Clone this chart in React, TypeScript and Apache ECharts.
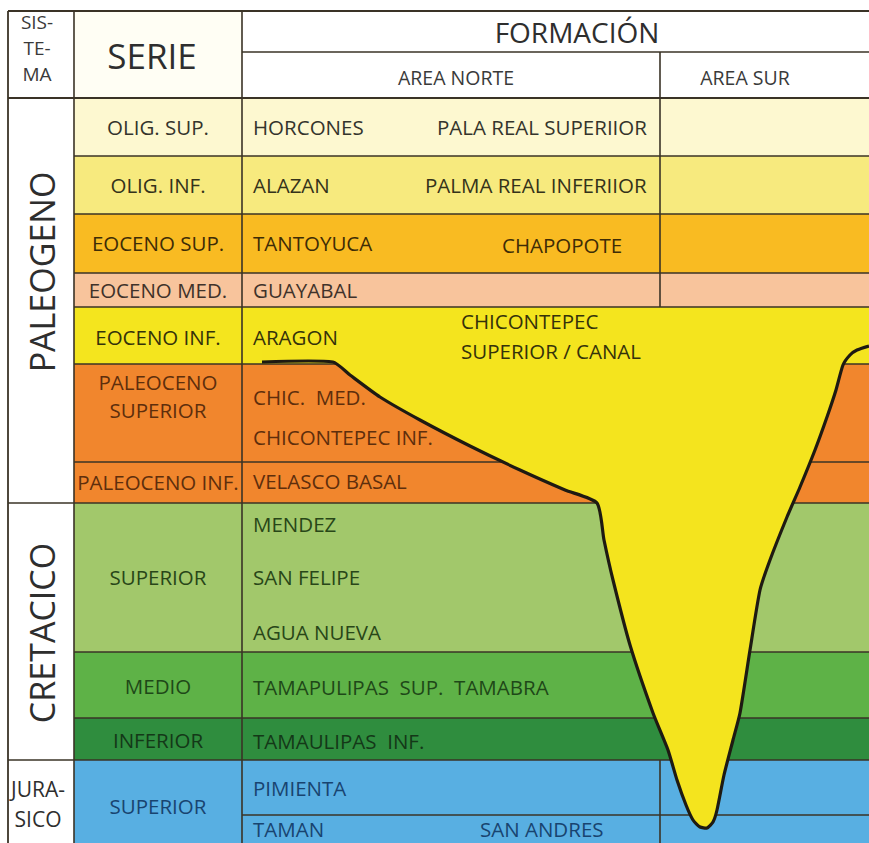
import React, { useEffect, useRef } from "react";
import * as echarts from "echarts";

// ---- frame of the table (data units = depth / horizontal position) ----
const X_MIN = 8;
const X_MAX = 869;
const Y_MIN = 11;
const Y_MAX = 843;

const colSistema = 8;
const colSerie = 74;
const colFormacion = 242;
const colAreaSur = 660;
const headerMid = 52;
const headerBottom = 98;

// ---- SISTEMA ----
const sistemaNames = ["PALEOGENO", "CRETACICO", "JURA-\nSICO"];
const sistemaBounds = [98, 503, 760, 843];

// ---- SERIE ----
const serieNames = [
  "OLIG. SUP.",
  "OLIG. INF.",
  "EOCENO SUP.",
  "EOCENO MED.",
  "EOCENO INF.",
  "PALEOCENO\nSUPERIOR",
  "PALEOCENO INF.",
  "SUPERIOR",
  "MEDIO",
  "INFERIOR",
  "SUPERIOR",
];
const serieBounds = [98, 156, 214, 273, 307, 364, 462, 503, 652, 718, 760, 843];
const serieLabelDepth = [127, 185, 243, 290, 337, 396, 482, 577, 686, 740, 806];

// ---- FORMACIÓN labels ----
const formNames = [
  "HORCONES", "PALA REAL SUPERIIOR",
  "ALAZAN", "PALMA REAL INFERIIOR",
  "TANTOYUCA", "CHAPOPOTE",
  "GUAYABAL",
  "ARAGON", "CHICONTEPEC", "SUPERIOR / CANAL",
  "CHIC.  MED.", "CHICONTEPEC INF.",
  "VELASCO BASAL",
  "MENDEZ", "SAN FELIPE", "AGUA NUEVA",
  "TAMAPULIPAS  SUP.  TAMABRA",
  "TAMAULIPAS  INF.",
  "PIMIENTA",
  "TAMAN", "SAN ANDRES",
];
const formX = [253, 437, 253, 425, 253, 502, 253, 253, 461, 461, 253, 253, 253, 253, 253, 253, 253, 253, 253, 253, 480];
const formDepth = [127, 127, 185, 185, 243, 245, 290, 337, 321, 351, 397, 437, 481, 524, 577, 632, 687, 741, 788, 829, 829];

// extra line inside the Jurassic (PIMIENTA / TAMAN)
const jurassicSplit = 815;
// AREA NORTE / AREA SUR divider visible parts
const dividerSegments = [[52, 307], [760, 843]];

// ---- Chicontepec channel outline ----
const channelX = [262, 333, 350, 380, 420, 470, 520, 565, 597, 604, 613, 630, 653, 668, 677, 686, 693, 700, 707, 713, 717, 724, 733, 740, 750, 760, 770, 787, 800, 815, 827, 836, 843, 850, 857, 869];
const channelY = [362, 362, 375, 397, 420, 446, 470, 490, 503, 540, 580, 645, 713, 750, 780, 805, 820, 827, 828, 822, 810, 775, 740, 713, 650, 590, 560, 517, 487, 450, 417, 390, 365, 355, 350, 346];

// ---- styles ----
const serieColors = [
  "#fdf8d0", "#f7ea7e", "#f9bb22", "#f8c49c", "#f4e51e",
  "#f1862d", "#f1862d", "#a2c86b", "#5eb247", "#2f8d3e", "#58afe2",
];
const serieTextColors = [
  "#34342c", "#34321a", "#3e2c06", "#40322a", "#34320a",
  "#5e2e0c", "#5e2e0c", "#284618", "#1e4818", "#143818", "#184470",
];
const formTextColorsByDepth = (d: number) => {
  for (let i = 0; i < serieNames.length; i++) {
    if (d >= serieBounds[i] && d < serieBounds[i + 1]) return serieTextColors[i];
  }
  return "#333";
};
const channelYellow = "#f4e41e";
const lineColor = "#3a3326";
const FONT = "'Open Sans', 'Noto Sans', sans-serif";

export default function App() {
  const ref = useRef<HTMLDivElement>(null);

  useEffect(() => {
    if (!ref.current) return;
    const chart = echarts.init(ref.current, null, { renderer: "svg" });

    // segments for table lines: [x1, y1, x2, y2, width]
    const segments: number[][] = [];
    segments.push([X_MIN, Y_MIN, X_MAX + 2, Y_MIN, 1.8]);
    segments.push([colSistema, Y_MIN, colSistema, Y_MAX, 1.8]);
    segments.push([colSerie, Y_MIN, colSerie, Y_MAX, 1.6]);
    segments.push([colFormacion, Y_MIN, colFormacion, Y_MAX, 1.6]);
    segments.push([colFormacion, headerMid, X_MAX + 2, headerMid, 1.6]);
    segments.push([X_MIN, headerBottom, X_MAX + 2, headerBottom, 1.8]);
    sistemaBounds.slice(1, -1).forEach((b) => segments.push([colSistema, b, colSerie, b, 1.6]));
    serieBounds.slice(1, -1).forEach((b) => segments.push([colSerie, b, X_MAX + 2, b, 1.6]));
    segments.push([colFormacion, jurassicSplit, X_MAX + 2, jurassicSplit, 1.6]);
    dividerSegments.forEach((s) => segments.push([colAreaSur, s[0], colAreaSur, s[1], 1.6]));

    type Lbl = { t: string; x: number; y: number; size: number; color: string; align: string; rot?: number; lh?: number };
    const labels: Lbl[] = [];
    labels.push({ t: "SIS-\nTE-\nMA", x: 37, y: 48, size: 19, color: "#3a3a3a", align: "center", lh: 26 });
    labels.push({ t: "SERIE", x: 152, y: 55, size: 35, color: "#2e2e2e", align: "center" });
    labels.push({ t: "FORMACIÓN", x: 577, y: 32, size: 28, color: "#2e2e2e", align: "center" });
    labels.push({ t: "AREA NORTE", x: 456, y: 77, size: 19.5, color: "#3a3a3a", align: "center" });
    labels.push({ t: "AREA SUR", x: 745, y: 77, size: 19.5, color: "#3a3a3a", align: "center" });
    sistemaNames.forEach((n, i) => {
      const mid = (sistemaBounds[i] + sistemaBounds[i + 1]) / 2;
      if (i < 2) {
        labels.push({ t: n, x: 42, y: i === 0 ? 272 : 633, size: 34, color: "#2e2e2e", align: "center", rot: Math.PI / 2 });
      } else {
        labels.push({ t: n, x: 38, y: mid + 2, size: 21, color: "#2e2e2e", align: "center", lh: 30 });
      }
    });
    serieNames.forEach((n, i) => {
      labels.push({ t: n, x: 158, y: serieLabelDepth[i], size: 20.5, color: serieTextColors[i], align: "center", lh: 28 });
    });
    formNames.forEach((n, i) => {
      labels.push({ t: n, x: formX[i], y: formDepth[i], size: 20.5, color: formTextColorsByDepth(formDepth[i]), align: "left" });
    });

    const option: any = {
      animation: false,
      backgroundColor: "#ffffff",
      grid: { left: X_MIN, right: 0, top: Y_MIN, bottom: 0 },
      xAxis: { type: "value", min: X_MIN, max: X_MAX, show: false },
      yAxis: { type: "value", min: Y_MIN, max: Y_MAX, inverse: true, show: false },
      series: [
        {
          type: "custom",
          name: "header",
          data: [0],
          clip: false,
          z: 1,
          renderItem: (params: any, api: any) => {
            const a = api.coord([colSerie, Y_MIN]);
            const b = api.coord([colFormacion, headerBottom]);
            return {
              type: "rect",
              shape: { x: a[0], y: a[1], width: b[0] - a[0], height: b[1] - a[1] },
              style: { fill: "#fffef4" },
            };
          },
        },
        {
          type: "custom",
          name: "serie",
          data: serieNames.map((_, i) => [i, serieBounds[i], serieBounds[i + 1]]),
          clip: false,
          z: 2,
          renderItem: (params: any, api: any) => {
            const i = api.value(0);
            const a = api.coord([colSerie, api.value(1)]);
            const b = api.coord([X_MAX + 2, api.value(2)]);
            return {
              type: "rect",
              shape: { x: a[0], y: a[1], width: b[0] - a[0], height: b[1] - a[1] },
              style: { fill: serieColors[i] },
            };
          },
        },
        {
          type: "custom",
          name: "lines",
          data: segments,
          clip: false,
          z: 3,
          renderItem: (params: any, api: any) => {
            const a = api.coord([api.value(0), api.value(1)]);
            const b = api.coord([api.value(2), api.value(3)]);
            return {
              type: "line",
              shape: { x1: a[0], y1: a[1], x2: b[0], y2: b[1] },
              style: { stroke: lineColor, lineWidth: api.value(4) },
            };
          },
        },
        {
          type: "custom",
          name: "channel",
          data: [0],
          clip: false,
          z: 4,
          renderItem: (params: any, api: any) => {
            const pts = channelX.map((x, i) => api.coord([x, channelY[i]]));
            const fillPts = pts.concat([api.coord([X_MAX + 2, 330]), api.coord([channelX[0], 330])]);
            return {
              type: "group",
              children: [
                { type: "polygon", shape: { points: fillPts }, style: { fill: channelYellow } },
                {
                  type: "polyline",
                  shape: { points: pts, smooth: 0.2 },
                  style: { stroke: "#1e1a12", lineWidth: 3.2, fill: null, lineJoin: "round" },
                },
              ],
            };
          },
        },
        {
          type: "custom",
          name: "labels",
          data: labels.map((l, i) => [i, l.x, l.y]),
          clip: false,
          z: 5,
          renderItem: (params: any, api: any) => {
            const l = labels[api.value(0)];
            const p = api.coord([l.x, l.y]);
            return {
              type: "text",
              x: p[0],
              y: p[1],
              rotation: l.rot || 0,
              style: {
                text: l.t,
                fill: l.color,
                fontSize: l.size,
                fontFamily: FONT,
                align: l.align,
                verticalAlign: "middle",
                lineHeight: l.lh || l.size * 1.25,
              },
            };
          },
        },
      ],
    };
    chart.setOption(option);
    return () => chart.dispose();
  }, []);

  return (
    <div
      ref={ref}
      style={{ position: "fixed", left: 0, top: 0, width: 869, height: 843, background: "#fff" }}
    />
  );
}
